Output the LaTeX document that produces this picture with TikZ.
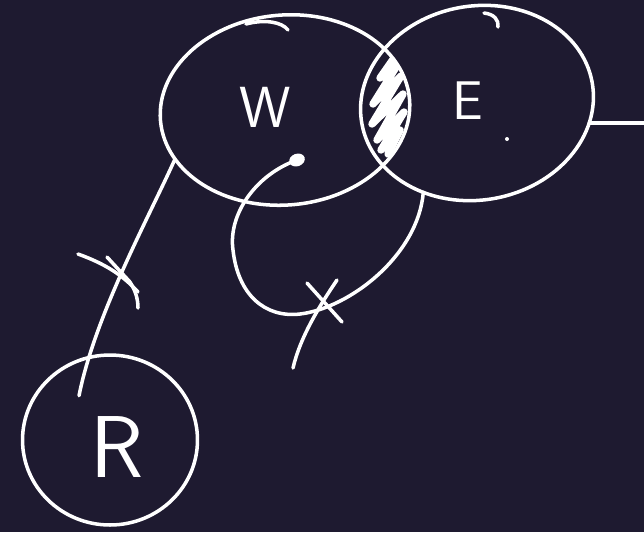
\documentclass[tikz,border=0pt]{standalone}
\usepackage{fontspec}
\usepackage{xcolor}
\usepackage{tikz}
\usetikzlibrary{
  shapes.geometric,
  calc
}
\definecolor{BoardBg}{HTML}{1E1A30}
\definecolor{Chalk}{HTML}{FFFFFF}
\tikzset{
  stroke/.style={
    draw=Chalk,
    line width=2pt,
    line cap=round,
    line join=round
  },
  region/.style={
    ellipse,
    stroke,
    inner sep=0pt,
    outer sep=0pt
  },
  letter/.style={
    text=Chalk,
    inner sep=0pt,
    font=\sffamily\fontsize{33}{33}\selectfont
  },
  relation/.style={
    stroke
  },
  scribble/.style={
    stroke,
    line width=4.2pt
  }
}

\begin{document}
\begin{tikzpicture}[x=0.02cm, y=-0.02cm]

  \fill[BoardBg] (0,0) rectangle (644,532);
  \useasboundingbox (0,0) rectangle (644,532);

  % the three sets
  \node[
    region,
    minimum width=5cm,
    minimum height=3.8cm,
    rotate=5
  ] (W) at (285,110) {};

  \node[
    region,
    minimum width=4.68cm,
    minimum height=3.88cm,
    rotate=10
  ] (E) at (477,103) {};

  \node[
    region,
    minimum width=3.5cm,
    minimum height=3.4cm
  ] (R) at (110,440) {};

  % shaded overlap
  \begin{scope}
    \clip[rotate around={5:(W.center)}] (W.center) ellipse [x radius=2.5cm, y radius=1.9cm];
    \clip[rotate around={10:(E.center)}] (E.center) ellipse [x radius=2.34cm, y radius=1.94cm];
    \draw[scribble]
    (394,58) -- (380,78) -- (398,64) -- (373,104) -- (401,76) -- (372,124)
    -- (403,94) -- (377,140) -- (404,112) -- (381,150) -- (400,130) -- (388,154);
  \end{scope}

  \draw[stroke] (246,24) .. controls (265,19) and (282,22) .. (288,30);
  \draw[stroke] (484,13) .. controls (494,14) and (499,20) .. (498,27);

  \node[letter] (Wlabel) at (265,107) {W};
  \node[letter, font=\sffamily\fontsize{31}{31}\selectfont] (Elabel) at (468,101) {E};
  \node[letter, font=\sffamily\fontsize{50}{50}\selectfont] (Rlabel) at (117,447) {R};

  \node[
    ellipse,
    fill=Chalk,
    inner sep=0pt,
    minimum width=0.32cm,
    minimum height=0.25cm,
    rotate=20
  ] (spot) at (297,160) {};

  \node[
    circle,
    fill=Chalk,
    inner sep=0pt,
    minimum size=0.08cm
  ] (speck) at (507,139) {};

  \coordinate (rtip) at ($(R.center)!0.63!(R.125)$);
  \coordinate (edge) at (644,0);

  % connectors
  \draw[relation]
  (W.199) .. controls (150,215) and (95,315) .. (rtip);

  \draw[relation]
  (spot.center) .. controls (255,175) and (228,215) .. (233,250)
  .. controls (238,295) and (265,318) .. (300,314)
  .. controls (350,308) and (418,255) .. (E.229);

  \draw[relation] (E.-20) -- (E.-20 -| edge);

  % crossings
  \draw[stroke] (78,254) .. controls (100,262) and (120,272) .. (138,292);
  \draw[stroke] (107,257) -- (130,282) .. controls (135,290) and (138,298) .. (138,308);

  \draw[stroke] (307,283) -- (342,322);
  \draw[stroke] (337,280) .. controls (318,308) and (300,338) .. (293,368);

\end{tikzpicture}
\end{document}
